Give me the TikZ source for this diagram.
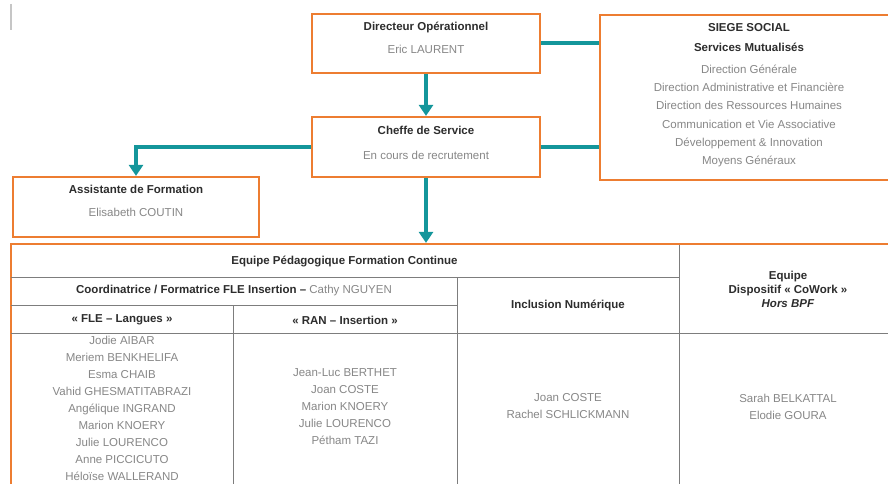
\documentclass[tikz,border=0pt]{standalone}
\usepackage{fontspec}
\setmainfont{Liberation Sans}
\usetikzlibrary{arrows.meta,positioning}
\definecolor{orgorange}{RGB}{237,125,49}
\definecolor{orgteal}{RGB}{20,150,155}
\definecolor{orgtext}{RGB}{45,45,45}
\definecolor{orggray}{RGB}{135,135,135}
\definecolor{orgline}{RGB}{125,125,125}

\begin{document}
\begin{tikzpicture}[x=1pt, y=-1pt,
    box/.style={rectangle, draw=orgorange, line width=2.2pt, fill=white, inner sep=0pt},
    headtext/.style={font=\fontsize{11.5}{14}\selectfont\bfseries, text=orgtext, align=center, inner sep=0pt},
    nametext/.style={font=\fontsize{11.5}{17}\selectfont, text=orggray, align=center, inner sep=0pt},
    link/.style={orgteal, line width=4pt},
    arrow/.style={link, -{Triangle[width=14pt,length=11pt]}},
    cellline/.style={orgline, line width=0.9pt}
]
    \useasboundingbox (0,0) rectangle (888,484);
    \clip (0,0) rectangle (888,484);
    \draw[gray!45, line width=1.5pt] (11,4) -- (11,30);

    \node[box, minimum width=228pt, minimum height=59pt] (dir) at (426,43.5) {};
    \node[box, minimum width=298pt, minimum height=165pt] (siege) at (749,97.5) {};
    \node[box, minimum width=228pt, minimum height=60pt] (chef) at (426,147) {};
    \node[box, minimum width=246pt, minimum height=60pt] (assist) at (136,207) {};
    \node[box, minimum width=886pt, minimum height=256pt] (equipe) at (454,372) {};

    \draw[arrow] (dir.south) -- (chef.north);
    \draw[link] (dir.east) -- (dir.east -| siege.west);
    \draw[link] (chef.east) -- (chef.east -| siege.west);
    \draw[arrow] (chef.west) -| (assist.north);
    \draw[arrow] (chef.south) -- (chef.south |- equipe.north);

    \node[headtext] (dirT) at (426,27) {Directeur Opérationnel};
    \node[nametext] (dirN) at (426,49) {Eric LAURENT};
    \node[headtext] (chefT) at (426,130) {Cheffe de Service};
    \node[nametext] (chefN) at (426,155) {En cours de recrutement};
    \node[headtext] (assistT) at (136,189) {Assistante de Formation};
    \node[nametext] (assistN) at (136,212) {Elisabeth COUTIN};
    \node[headtext] (siegeT) at (749,28) {SIEGE SOCIAL};
    \node[headtext] (siegeS) at (749,47) {Services Mutualisés};
    \node[nametext, font=\fontsize{11.5}{18.3}\selectfont] (siegeL) at (749,116) {Direction Générale\\Direction Administrative et Financière\\Direction des Ressources Humaines\\Communication et Vie Associative\\Développement \& Innovation\\Moyens Généraux};

    \draw[cellline] (11,277) -- (679,277);
    \draw[cellline] (11,305) -- (457,305);
    \draw[cellline] (11,333) -- (897,333);
    \draw[cellline] (679,245) -- (679,484);
    \draw[cellline] (457,277) -- (457,484);
    \draw[cellline] (233,305) -- (233,484);

    \node[headtext] (eqT) at (344.5,261) {Equipe Pédagogique Formation Continue};
    \node[headtext] (coordT) at (234,291) {Coordinatrice / Formatrice FLE Insertion – {\mdseries\color{orggray}Cathy NGUYEN}};
    \node[headtext] (fleT) at (122,320) {« FLE – Langues »};
    \node[headtext] (ranT) at (345,320) {« RAN – Insertion »};
    \node[headtext] (inclT) at (568,305) {Inclusion Numérique};
    \node[headtext] (coworkT) at (788,289) {Equipe\\Dispositif « CoWork »\\\textit{Hors BPF}};

    \node[nametext] (fleN) at (122,408) {Jodie AIBAR\\Meriem BENKHELIFA\\Esma CHAIB\\Vahid GHESMATITABRAZI\\Angélique INGRAND\\Marion KNOERY\\Julie LOURENCO\\Anne PICCICUTO\\Héloïse WALLERAND};
    \node[nametext] (ranN) at (345,407) {Jean-Luc BERTHET\\Joan COSTE\\Marion KNOERY\\Julie LOURENCO\\Pétham TAZI};
    \node[nametext] (inclN) at (568,406.5) {Joan COSTE\\Rachel SCHLICKMANN};
    \node[nametext] (coworkN) at (788,406.5) {Sarah BELKATTAL\\Elodie GOURA};
\end{tikzpicture}
\end{document}
